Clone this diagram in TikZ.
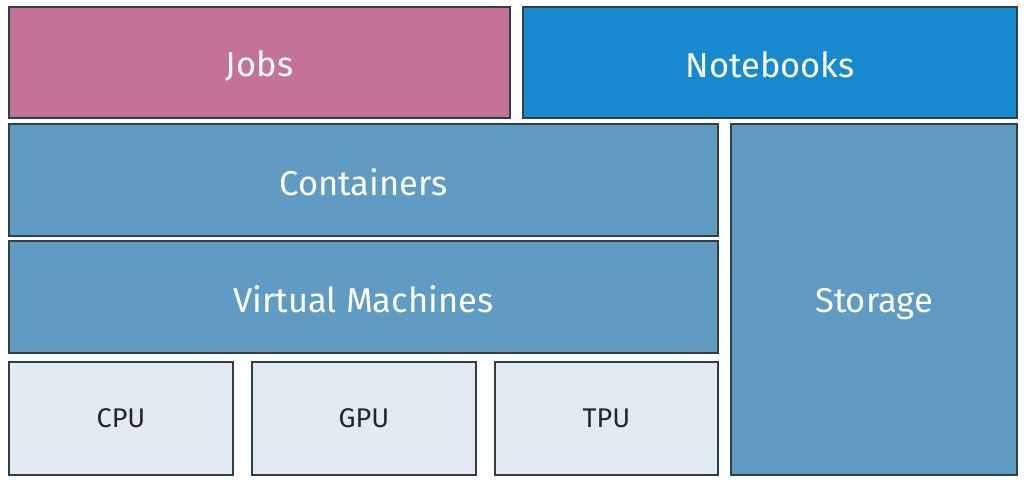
\documentclass[tikz,border=0pt]{standalone}
\usepackage{fontspec}
\setmainfont{Fira Sans}
\definecolor{jobc}{HTML}{C47396}
\definecolor{nbc}{HTML}{1789CF}
\definecolor{midc}{HTML}{5F9BC2}
\definecolor{hwc}{HTML}{E2EAF3}
\definecolor{edgec}{HTML}{2F3F47}
\begin{document}
\begin{tikzpicture}[x=1pt,y=-1pt,
  blk/.style={draw=edgec,line width=1.5pt,text=white,font=\fontsize{34.5}{38}\selectfont},
  hw/.style={draw=edgec,line width=1.5pt,fill=hwc,text=black!85,font=\fontsize{27}{30}\selectfont}]
\useasboundingbox[fill=white] (0,0) rectangle (1024,484);
\draw[blk,fill=jobc] (9,7) rectangle (510,118) node[midway,yshift=-3pt] (jobs) {Jobs};
\draw[blk,fill=nbc] (523,7) rectangle (1017,118) node[midway,yshift=-2pt] (nb) {Notebooks};
\draw[blk,fill=midc] (9,124) rectangle (718,236) node[midway,yshift=-2pt] (cont) {Containers};
\draw[blk,fill=midc] (9,241) rectangle (718,353) node[midway,yshift=-2pt] (vm) {Virtual Machines};
\draw[blk,fill=midc] (731,124) rectangle (1017,475) node[midway,yshift=-5pt] (st) {Storage};
\draw[hw] (9,362) rectangle (233,475) node[midway] (cpu) {CPU};
\draw[hw] (252,362) rectangle (476,475) node[midway] (gpu) {GPU};
\draw[hw] (495,362) rectangle (718,475) node[midway] (tpu) {TPU};
\end{tikzpicture}
\end{document}
